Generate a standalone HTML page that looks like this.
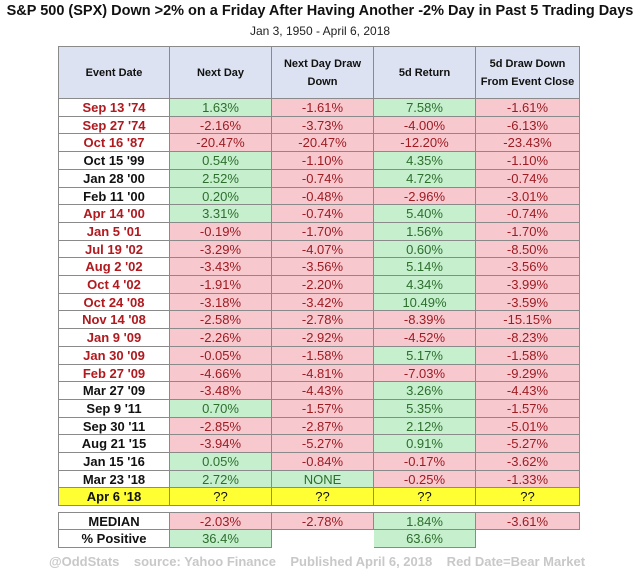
<!DOCTYPE html>
<html><head><meta charset="utf-8"><style>
body{margin:0;width:640px;height:579px;background:#fff;font-family:"Liberation Sans",Arial,sans-serif;position:relative;overflow:hidden}
.t{position:absolute;left:0;width:640px;text-align:center}
.c{position:absolute;box-sizing:border-box;display:flex;align-items:center;justify-content:center;font-size:13px;border-right:1px solid #8a8a8a;border-bottom:1px solid #8a8a8a}
.g{background:#c6efce;color:#2d6e2d}
.r{background:#f7c9cf;color:#9c1c22}
.h{background:#dce2f1;font-weight:bold;font-size:11px;text-align:center;line-height:18px;color:#111}
.d{font-weight:bold;font-size:13px;background:#fff;color:#111}
.y{background:#ffff33;color:#111}
</style></head><body>
<div class="t" style="top:3px;font-size:14.5px;font-weight:bold;color:#111">S&amp;P 500 (SPX) Down &gt;2% on a Friday After Having Another -2% Day in Past 5 Trading Days</div>
<div class="t" style="top:24px;font-size:12px;color:#222">Jan 3, 1950 - April 6, 2018</div>
<div id="tbl"></div>
<div class="t" style="top:554px;font-size:13px;font-weight:bold;color:#c8c8c8;left:-3px">@OddStats &nbsp;&nbsp; source: Yahoo Finance &nbsp;&nbsp; Published April 6, 2018 &nbsp;&nbsp; Red Date=Bear Market</div>
<script>
const dates=["Sep 13 '74","Sep 27 '74","Oct 16 '87","Oct 15 '99","Jan 28 '00","Feb 11 '00","Apr 14 '00","Jan 5 '01","Jul 19 '02","Aug 2 '02","Oct 4 '02","Oct 24 '08","Nov 14 '08","Jan 9 '09","Jan 30 '09","Feb 27 '09","Mar 27 '09","Sep 9 '11","Sep 30 '11","Aug 21 '15","Jan 15 '16","Mar 23 '18"];
const bear=[1,1,1,0,0,0,1,1,1,1,1,1,1,1,1,1,0,0,0,0,0,0];
const nextDay=["1.63%","-2.16%","-20.47%","0.54%","2.52%","0.20%","3.31%","-0.19%","-3.29%","-3.43%","-1.91%","-3.18%","-2.58%","-2.26%","-0.05%","-4.66%","-3.48%","0.70%","-2.85%","-3.94%","0.05%","2.72%"];
const nextDayDD=["-1.61%","-3.73%","-20.47%","-1.10%","-0.74%","-0.48%","-0.74%","-1.70%","-4.07%","-3.56%","-2.20%","-3.42%","-2.78%","-2.92%","-1.58%","-4.81%","-4.43%","-1.57%","-2.87%","-5.27%","-0.84%","NONE"];
const ret5d=["7.58%","-4.00%","-12.20%","4.35%","4.72%","-2.96%","5.40%","1.56%","0.60%","5.14%","4.34%","10.49%","-8.39%","-4.52%","5.17%","-7.03%","3.26%","5.35%","2.12%","0.91%","-0.17%","-0.25%"];
const dd5d=["-1.61%","-6.13%","-23.43%","-1.10%","-0.74%","-3.01%","-0.74%","-1.70%","-8.50%","-3.56%","-3.99%","-3.59%","-15.15%","-8.23%","-1.58%","-9.29%","-4.43%","-1.57%","-5.01%","-5.27%","-3.62%","-1.33%"];
const median=["-2.03%","-2.78%","1.84%","-3.61%"];
const pctPos=["36.4%","","63.6%",""];
const headers=["Event Date","Next Day","Next Day Draw<br>Down","5d Return","5d Draw Down<br>From Event Close"];
const colX=[58,170,272,374,476,580];
const T=document.getElementById('tbl');
function cell(x0,x1,y,h,cls,html,name,extra){
 const e=document.createElement('div');
 e.className='c '+cls;
 e.style.left=x0+'px';e.style.top=y+'px';e.style.width=(x1-x0)+'px';e.style.height=h+'px';
 if(x0===58)e.style.borderLeft='1px solid #8a8a8a';
 if(extra)e.style.cssText+=extra;
 e.innerHTML=html;
 
 
 T.appendChild(e);return e;
}
const hTop=46,rTop=99,rh=17.7;
for(let i=0;i<5;i++)cell(colX[i],colX[i+1],hTop,rTop-hTop,'h',headers[i],'header-cell','border-top:1px solid #8a8a8a;');
function cls(v){return v==='NONE'||!v.startsWith('-')?'g':'r';}
const cols=[nextDay,nextDayDD,ret5d,dd5d];
dates.forEach((d,i)=>{
 const y=Math.round(rTop+i*rh), h=Math.round(rTop+(i+1)*rh)-y;
 cell(colX[0],colX[1],y,h,'d',d,'event-date-cell','color:'+(bear[i]?'#b0191e':'#111'));
 cols.forEach((a,j)=>cell(colX[j+1],colX[j+2],y,h,cls(a[i]),a[i],'value-cell'));
});
const yA=Math.round(rTop+dates.length*rh);
cell(colX[0],colX[1],yA,18,'d y',"Apr 6 '18",'current-event-date');
for(let j=0;j<4;j++)cell(colX[j+1],colX[j+2],yA,18,'y','??','current-event-value');
const yM=512;
cell(colX[0],colX[1],yM,18,'d','MEDIAN','median-label','border-top:1px solid #8a8a8a;');
median.forEach((v,j)=>cell(colX[j+1],colX[j+2],yM,18,cls(v),v,'median-value','border-top:1px solid #8a8a8a;'));
cell(colX[0],colX[1],yM+18,18,'d','% Positive','pct-positive-label');
pctPos.forEach((v,j)=>{if(v)cell(colX[j+1],colX[j+2],yM+18,18,cls(v),v,'pct-positive-value');});
</script>
</body></html>
